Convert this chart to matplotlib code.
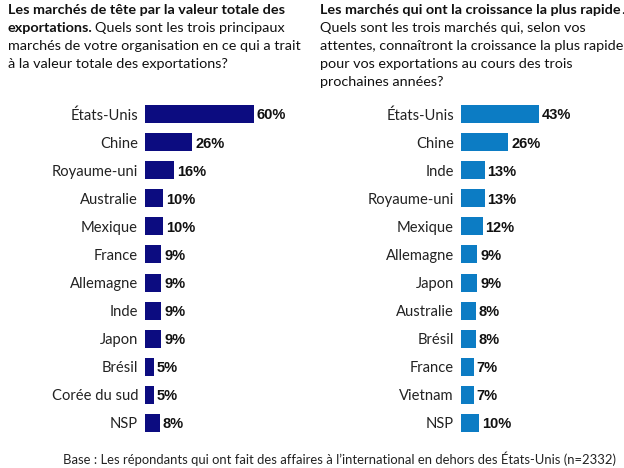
import numpy as np
import matplotlib
matplotlib.use('Agg')
import matplotlib.pyplot as plt

# left panel: top markets by total export value
left_labels = ['États-Unis', 'Chine', 'Royaume-uni', 'Australie', 'Mexique', 'France',
               'Allemagne', 'Inde', 'Japon', 'Brésil', 'Corée du sud', 'NSP']
left_values = [60, 26, 16, 10, 10, 9, 9, 9, 9, 5, 5, 8]

# right panel: fastest growing markets
right_labels = ['États-Unis', 'Chine', 'Inde', 'Royaume-uni', 'Mexique', 'Allemagne',
                'Japon', 'Australie', 'Brésil', 'France', 'Vietnam', 'NSP']
right_values = [43, 26, 13, 13, 12, 9, 9, 8, 8, 7, 7, 10]

LABEL_FONT = 'Lato'
BOLD_FONT = 'Liberation Sans'
W, H = 624, 468


def draw_panel(fig, x0, labels, values, color):
    # axes placed in pixel units, 1.82 px per percent
    ax = fig.add_axes([x0 / W, 31 / H, 80 * 1.82 / W, 337 / H])
    y = np.arange(len(labels))
    ax.barh(y, values, height=0.64, color=color)
    ax.set_xlim(0, 80)
    ax.set_ylim(len(labels) - 0.5, -0.5)
    ax.set_yticks(y)
    ax.set_yticklabels(labels, fontsize=10.6, family=LABEL_FONT, color='#222222')
    ax.tick_params(axis='y', length=0, pad=5)
    ax.set_xticks([])
    for s in ax.spines.values():
        s.set_visible(False)
    for yi, v in zip(y, values):
        ax.text(v + 1.5, yi + 0.05, f'{v}%', va='center', ha='left',
                fontsize=10.5, fontweight='bold', family=BOLD_FONT, color='#111111')
    return ax


fig = plt.figure(figsize=(6.24, 4.68), dpi=100)

draw_panel(fig, 145, left_labels, left_values, '#0c0c80')
draw_panel(fig, 461, right_labels, right_values, '#0c7cc4')

tkw = dict(va='top', ha='left', color='#111111')
bkw = dict(fontsize=10.4, fontweight='bold', family=LABEL_FONT, **tkw)
nkw = dict(fontsize=10.4, family=LABEL_FONT, **tkw)

# left title
fig.text(8 / W, 1 - 4 / H, 'Les marchés de tête par la valeur totale des', **bkw)
b = fig.text(8 / W, 1 - 22 / H, 'exportations.', **bkw)
fig.canvas.draw()
ex = b.get_window_extent()
fig.text((ex.x1 + 2) / W, 1 - 22 / H, 'Quels sont les trois principaux', **nkw)
fig.text(8 / W, 1 - 40 / H, 'marchés de votre organisation en ce qui a trait', **nkw)
fig.text(8 / W, 1 - 58 / H, 'à la valeur totale des exportations?', **nkw)

# right title
r = fig.text(320 / W, 1 - 4 / H, 'Les marchés qui ont la croissance la plus rapide', **bkw)
fig.canvas.draw()
ex = r.get_window_extent()
fig.text((ex.x1 + 1) / W, 1 - 4 / H, '.', **nkw)
right_lines = ['Quels sont les trois marchés qui, selon vos',
               'attentes, connaîtront la croissance la plus rapide',
               'pour vos exportations au cours des trois',
               'prochaines années?']
for i, line in enumerate(right_lines):
    fig.text(320 / W, 1 - (22 + 18 * i) / H, line, **nkw)

fig.text(340 / W, 1 - 459 / H,
         "Base : Les répondants qui ont fait des affaires à l’international en dehors des États-Unis (n=2332)",
         ha='center', va='center', fontsize=9.4, family=LABEL_FONT, color='#222222')

fig.savefig('out.png', dpi=100)
